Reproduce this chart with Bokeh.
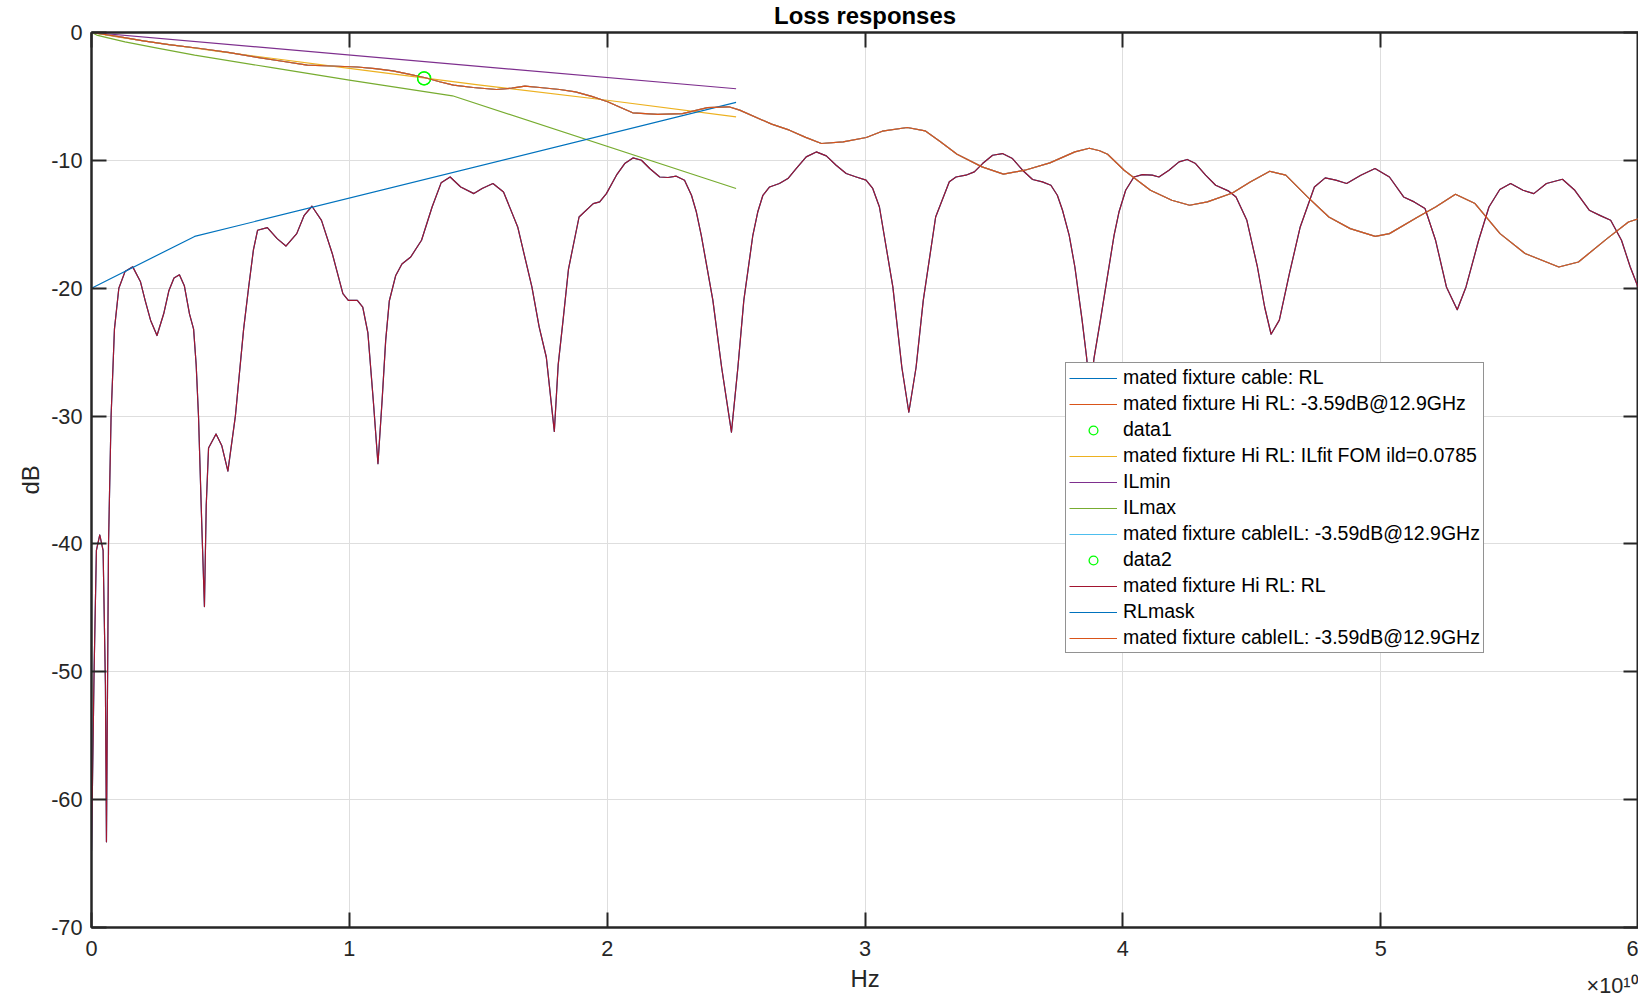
import numpy as np
from bokeh.plotting import figure
from bokeh.models import (Range1d, LinearAxis, FixedTicker, CustomJSTickFormatter,
                          Legend, LegendItem, Title)
from bokeh.embed import file_html
from bokeh.resources import INLINE

FONT = "Liberation Sans"

# ---------------- data (frequency in GHz, level in dB) ----------------
rl_freq_ghz = [0.0, 0.1, 0.19, 0.32, 0.45, 0.54, 0.58, 0.66, 0.76, 0.89, 1.06, 1.3, 1.6, 1.9,
               2.08, 2.29, 2.54, 2.8, 3.0, 3.2, 3.41, 3.6, 3.8, 3.96, 4.06, 4.15, 4.28, 4.38,
               4.45, 4.54, 4.83, 5.05, 5.29, 5.58, 5.9, 6.09, 6.28, 6.44, 6.82, 7.2, 7.54,
               7.96, 8.25, 8.55, 8.92, 9.34, 9.75, 9.96, 10.31, 10.52, 10.72, 10.93, 11.11,
               11.27, 11.41, 11.55, 11.8, 12.04, 12.38, 12.8, 13.21, 13.56, 13.91, 14.32,
               14.83, 15.15, 15.57, 15.98, 16.53, 17.08, 17.36, 17.64, 17.95, 18.1, 18.29,
               18.5, 18.91, 19.46, 19.71, 19.97, 20.36, 20.68, 21.0, 21.33, 21.65, 22.04,
               22.36, 22.68, 23.0, 23.27, 23.46, 23.65, 24.1, 24.44, 24.82, 25.07, 25.3,
               25.65, 25.84, 26.04, 26.3, 26.68, 27.01, 27.33, 27.72, 28.11, 28.5, 28.88,
               29.27, 29.66, 30.04, 30.3, 30.56, 31.08, 31.43, 31.7, 31.98, 32.26, 32.74,
               33.27, 33.53, 33.91, 34.24, 34.56, 34.95, 35.33, 35.72, 36.11, 36.5, 36.88,
               37.21, 37.46, 37.66, 37.92, 38.14, 38.42, 38.6, 38.73, 38.88, 39.13, 39.66,
               39.85, 40.11, 40.43, 40.76, 41.14, 41.4, 41.79, 42.18, 42.5, 42.82, 43.21,
               43.6, 44.11, 44.39, 44.81, 45.22, 45.5, 45.75, 46.07, 46.46, 46.88, 47.43,
               47.85, 48.26, 48.68, 49.23, 49.78, 50.34, 50.89, 51.3, 51.72, 52.13, 52.55,
               52.97, 53.31, 53.8, 54.2, 54.62, 55.04, 55.52, 55.94, 56.43, 57.05, 57.53,
               58.09, 58.5, 58.92, 59.34, 59.68, 60.0]
rl_db = [-64.0, -50.0, -40.5, -39.3, -40.5, -51.0, -63.3, -40.0, -30.0, -23.2, -20.0, -18.7,
         -18.33, -19.5, -20.95, -22.5, -23.7, -22.0, -20.2, -19.2, -18.95, -19.8, -22.0, -23.2,
         -26.0, -30.0, -38.7, -44.9, -37.0, -32.5, -31.4, -32.3, -34.3, -30.0, -23.2, -20.0,
         -17.0, -15.47, -15.26, -16.12, -16.7, -15.73, -14.3, -13.59, -14.69, -17.3, -20.43,
         -20.95, -20.95, -21.47, -23.5, -28.8, -33.73, -28.8, -24.08, -21.0, -19.0, -18.1,
         -17.56, -16.25, -13.65, -11.76, -11.3, -12.08, -12.6, -12.2, -11.81, -12.47, -15.21,
         -19.9, -23.0, -25.4, -31.2, -26.0, -22.5, -18.5, -14.43, -13.38, -13.25, -12.6,
         -11.16, -10.25, -9.81, -9.99, -10.64, -11.3, -11.34, -11.24, -11.55, -12.73, -14.04,
         -15.86, -20.95, -26.2, -31.26, -26.2, -20.95, -15.86, -14.04, -12.73, -12.08,
         -11.81, -11.42, -10.64, -9.73, -9.34, -9.65, -10.38, -11.03, -11.3, -11.55, -12.2,
         -13.65, -19.9, -26.2, -29.7, -26.2, -20.95, -14.43, -11.68, -11.3, -11.16, -10.9,
         -10.25, -9.6, -9.47, -9.86, -10.77, -11.5, -11.68, -11.95, -12.73, -13.9, -15.86,
         -18.34, -22.5, -25.5, -28.5, -25.5, -22.5, -15.86, -14.04, -12.34, -11.3, -11.11,
         -11.16, -11.3, -10.77, -10.12, -9.93, -10.25, -11.16, -11.95, -12.41, -12.86, -14.69,
         -18.34, -21.47, -23.6, -22.5, -18.86, -15.21, -12.08, -11.37, -11.55, -11.81, -11.16,
         -10.64, -11.3, -12.86, -13.25, -13.77, -16.25, -19.9, -21.68, -19.9, -16.25, -13.65,
         -12.28, -11.81, -12.34, -12.6, -11.81, -11.48, -12.34, -13.9, -14.3, -14.69, -16.25,
         -18.34, -20.0]

il_freq_ghz = [0.0, 1.0, 2.01, 3.0, 4.22, 5.3, 6.43, 7.4, 8.37, 9.3, 10.31, 11.0, 11.69, 12.3,
               12.95, 13.5, 14.04, 14.8, 15.7, 16.3, 16.81, 17.39, 18.16, 18.77, 19.4, 20.02,
               20.5, 20.99, 21.96, 22.92, 23.89, 24.72, 25.14, 26.38, 27.07, 27.7, 28.31,
               29.15, 30.05, 30.67, 31.64, 32.33, 32.9, 33.57, 34.54, 35.37, 36.2, 37.17,
               38.14, 38.7, 39.1, 39.41, 40.05, 41.07, 41.9, 42.59, 43.28, 44.25, 44.94,
               45.7, 46.32, 47.16, 47.99, 48.82, 49.79, 50.34, 51.44, 52.13, 52.9, 53.66,
               54.63, 55.6, 56.91, 57.67, 58.78, 59.61, 60.0]
il_db = [0.0, -0.3, -0.65, -0.95, -1.25, -1.55, -1.95, -2.25, -2.55, -2.62, -2.7, -2.82, -3.0,
         -3.25, -3.54, -3.85, -4.12, -4.3, -4.46, -4.35, -4.2, -4.3, -4.46, -4.64, -5.0, -5.42,
         -5.85, -6.28, -6.41, -6.34, -5.87, -5.81, -6.07, -7.17, -7.64, -8.2, -8.68, -8.55,
         -8.21, -7.72, -7.43, -7.69, -8.5, -9.52, -10.51, -11.08, -10.77, -10.2, -9.34, -9.05,
         -9.25, -9.52, -10.77, -12.34, -13.12, -13.51, -13.25, -12.55, -11.69, -10.85, -11.16,
         -12.86, -14.43, -15.34, -15.94, -15.73, -14.43, -13.65, -12.65, -13.38, -15.73,
         -17.29, -18.34, -17.95, -16.12, -14.82, -14.56]

ilfit_freq_ghz = [0.0, 1.0, 2.5, 5.0, 10.0, 15.0, 20.0, 25.0]
ilfit_db = [0.0, -0.35, -0.8, -1.5, -2.8, -4.1, -5.3, -6.6]

ilmin_freq_ghz = [0.0, 25.0]
ilmin_db = [0.0, -4.4]

ilmax_freq_ghz = [0.0, 0.2, 0.6, 1.3, 2.5, 4.0, 7.0, 10.0, 14.0, 25.0]
ilmax_db = [0.0, -0.2, -0.4, -0.73, -1.2, -1.77, -2.75, -3.73, -4.95, -12.2]

rlmask_freq_ghz = [0.0, 4.0, 25.0]
rlmask_db = [-20.0, -15.95, -5.47]

marker_freq_ghz = [12.9]
marker_db = [-3.59]

x_ticks_ghz = [0, 10, 20, 30, 40, 50, 60]
y_ticks_db = [-70, -60, -50, -40, -30, -20, -10, 0]

legend_labels = [
    "mated fixture cable: RL",
    "mated fixture Hi RL: -3.59dB@12.9GHz",
    "data1",
    "mated fixture Hi RL: ILfit FOM ild=0.0785",
    "ILmin",
    "ILmax",
    "mated fixture cableIL: -3.59dB@12.9GHz",
    "data2",
    "mated fixture Hi RL: RL",
    "RLmask",
    "mated fixture cableIL: -3.59dB@12.9GHz",
]

GHZ = 1e9
def hz(v):
    return np.array(v, dtype=float) * GHZ

AX = "#262626"
LW = 1.2

p = figure(width=1638, height=998, output_backend="svg", toolbar_location=None,
           x_range=Range1d(0, 6e10), y_range=Range1d(-70, 0),
           min_border_left=91, min_border_right=0, min_border_top=32, min_border_bottom=71,
           title="Loss responses", x_axis_label="Hz", y_axis_label="dB")

p.background_fill_color = "white"
p.border_fill_color = "white"
p.outline_line_color = AX
p.outline_line_width = 2

p.title.align = "center"
p.title.text_font = FONT
p.title.text_font_size = "23.9px"
p.title.text_font_style = "bold"
p.title.text_color = "black"
p.title.standoff = 3
p.title.vertical_align = "top"

xt = FixedTicker(ticks=[t * GHZ for t in x_ticks_ghz])
yt = FixedTicker(ticks=y_ticks_db)

xfmt = CustomJSTickFormatter(code="return (tick/1e10).toFixed(0);")
yfmt = CustomJSTickFormatter(code="return tick.toFixed(0);")
for ax in p.xaxis:
    ax.ticker = xt
    ax.formatter = xfmt
for ax in p.yaxis:
    ax.ticker = yt
    ax.formatter = yfmt

def style_axis(ax, standoff, label_standoff):
    ax.axis_line_color = AX
    ax.axis_line_width = 2
    ax.major_tick_line_color = AX
    ax.major_tick_line_width = 2
    ax.major_tick_in = 15
    ax.major_tick_out = 0
    ax.minor_tick_line_color = None
    ax.major_label_text_font = FONT
    ax.major_label_text_font_size = "21.7px"
    ax.major_label_text_color = AX
    ax.major_label_standoff = standoff
    ax.axis_label_text_font = FONT
    ax.axis_label_text_font_size = "23.9px"
    ax.axis_label_text_font_style = "normal"
    ax.axis_label_text_color = AX
    ax.axis_label_standoff = label_standoff

style_axis(p.xaxis[0], 13, 6)
style_axis(p.yaxis[0], 9, 4)

blank = CustomJSTickFormatter(code="return '';")
top_axis = LinearAxis(ticker=xt, formatter=blank)
right_axis = LinearAxis(ticker=yt, formatter=blank)
for ax in (top_axis, right_axis):
    style_axis(ax, 0, 0)
    ax.major_label_text_font_size = "0px"
p.add_layout(top_axis, "above")
p.add_layout(right_axis, "right")

# exponent note of the x axis, right-aligned under the axis, on the row of "Hz"
exp_note = Title(text="\u00d710\u00b9\u2070", align="right", vertical_align="top",
                 text_font=FONT, text_font_size="21.7px", text_font_style="normal",
                 text_color=AX, standoff=-44)
p.add_layout(exp_note, "below")

p.xgrid.ticker = xt
p.ygrid.ticker = yt
for g in (p.xgrid[0], p.ygrid[0]):
    g.grid_line_color = "#dedede"
    g.grid_line_width = 1

# ---------------- series (plotting order as in the original) ----------------
def ln(xs, ys, color):
    return p.line(hz(xs), ys, line_color=color, line_width=LW, line_join="round")

r1 = ln(rl_freq_ghz, rl_db, "#0072BD")
r2 = ln(il_freq_ghz, il_db, "#D95319")
r3 = p.scatter(hz(marker_freq_ghz), marker_db, marker="circle", size=13,
               line_color="#00FF00", fill_color=None, line_width=1.3)
r4 = ln(ilfit_freq_ghz, ilfit_db, "#EDB120")
r5 = ln(ilmin_freq_ghz, ilmin_db, "#7E2F8E")
r6 = ln(ilmax_freq_ghz, ilmax_db, "#77AC30")
r7 = ln(il_freq_ghz, il_db, "#4DBEEE")
r8 = p.scatter(hz(marker_freq_ghz), marker_db, marker="circle", size=13,
               line_color="#00FF00", fill_color=None, line_width=1.3)
r9 = ln(rl_freq_ghz, rl_db, "#A2142F")
r10 = ln(rlmask_freq_ghz, rlmask_db, "#0072BD")
r11 = ln(il_freq_ghz, il_db, "#D95319")

renderers = [r1, r2, r3, r4, r5, r6, r7, r8, r9, r10, r11]
items = [LegendItem(label=lab, renderers=[r]) for lab, r in zip(legend_labels, renderers)]
legend = Legend(items=items, location=(974, 274))
legend.label_text_font = FONT
legend.label_text_font_size = "19.5px"
legend.label_text_color = "black"
legend.border_line_color = AX
legend.border_line_width = 1
legend.background_fill_color = "white"
legend.background_fill_alpha = 1.0
legend.glyph_width = 48
legend.glyph_height = 22
legend.label_height = 22
legend.label_standoff = 6
legend.spacing = 3
legend.padding = 3
legend.margin = 0
p.add_layout(legend)

open("out.html", "w").write(file_html(p, INLINE))
